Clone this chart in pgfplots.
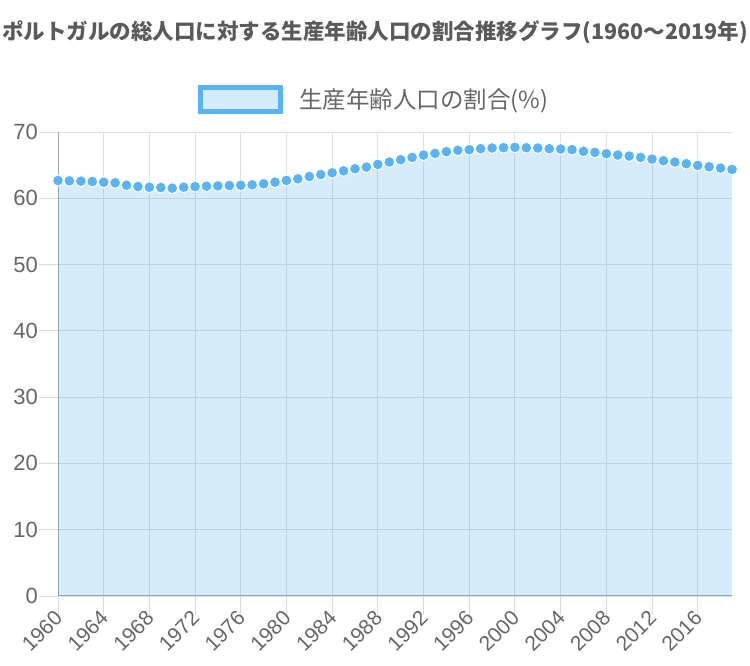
\documentclass[border=0pt]{standalone}
\usepackage{fontspec}
\setmainfont{Liberation Sans}
\newfontfamily\cjk{Noto Sans CJK JP}
\usepackage{pgfplots}
\usepackage{pgfplotstable}
\pgfplotsset{compat=1.18}
\definecolor{ptblue}{RGB}{88,180,246}
\definecolor{ptfill}{RGB}{214,235,251}
\definecolor{fillbase}{RGB}{54,162,235}
\definecolor{txtgray}{RGB}{102,102,102}
\definecolor{titlegray}{RGB}{90,90,90}

\pgfplotstableread{
year val
1960 62.68
1961 62.63
1962 62.58
1963 62.53
1964 62.43
1965 62.33
1966 61.97
1967 61.77
1968 61.67
1969 61.62
1970 61.52
1971 61.67
1972 61.77
1973 61.82
1974 61.87
1975 61.92
1976 61.97
1977 62.03
1978 62.18
1979 62.43
1980 62.68
1981 62.93
1982 63.29
1983 63.59
1984 63.84
1985 64.14
1986 64.45
1987 64.70
1988 65.11
1989 65.46
1990 65.81
1991 66.17
1992 66.52
1993 66.77
1994 67.03
1995 67.23
1996 67.33
1997 67.48
1998 67.58
1999 67.63
2000 67.68
2001 67.63
2002 67.58
2003 67.48
2004 67.43
2005 67.33
2006 67.08
2007 66.92
2008 66.72
2009 66.52
2010 66.37
2011 66.17
2012 65.91
2013 65.66
2014 65.46
2015 65.21
2016 64.95
2017 64.75
2018 64.55
2019 64.35
}\datatable

\begin{document}
\begin{tikzpicture}
\useasboundingbox (0,0) rectangle (750pt,666pt);
\node[font=\cjk\bfseries\fontsize{21.5}{24}\selectfont, text=titlegray, inner sep=0pt] at (375pt,634pt) {ポルトガルの総人口に対する生産年齢人口の割合推移グラフ(1960～2019年)};
\begin{axis}[
  at={(58pt,70pt)}, anchor=south west,
  scale only axis, width=674pt, height=464pt,
  xmin=1960, xmax=2019, ymin=0, ymax=70,
  xtick={1960,1964,...,2016},
  ytick={0,10,...,70},
  clip=false,
  axis lines=left,
  axis line style={-, draw=black!35, line width=1pt},
  grid=major,
  grid style={black!12, line width=0.9pt},
  tick align=outside,
  major tick length=19pt,
  tick style={black!14, line width=0.9pt},
  /pgf/number format/1000 sep={},
  /pgf/number format/assume math mode=true,
  yticklabel style={font=\fontsize{22}{24}\selectfont, text=txtgray, inner sep=1pt},
  xticklabel style={font=\fontsize{21}{23}\selectfont, text=txtgray, rotate=45, anchor=east, inner sep=1pt, xshift=2pt},
  legend style={at={(0.469,1.07)}, anchor=center, draw=none, fill=none,
    font=\cjk\fontsize{23.5}{26}\selectfont, text=txtgray,
    legend cell align=left},
]
\addlegendimage{legend image code/.code={\draw[ptblue, line width=5pt, fill=ptfill] (0pt,-12pt) rectangle (80pt,12pt);}}
\addlegendentry{\hspace{14pt}生産年齢人口の割合(\%)}
\addplot[fill=fillbase, fill opacity=0.2, draw=none, forget plot] table[x=year, y=val] {\datatable} \closedcycle;
\addplot[only marks, mark=*, mark size=5.5pt, mark options={fill=ptblue, draw=white, line width=1pt}, forget plot] table[x=year, y=val] {\datatable};
\end{axis}
\end{tikzpicture}
\end{document}
